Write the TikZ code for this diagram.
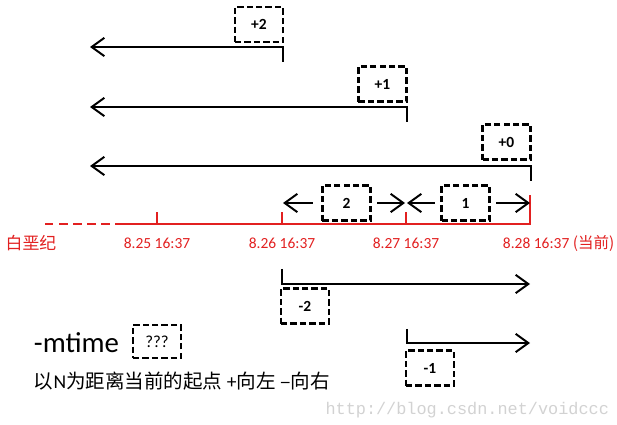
\documentclass[tikz,border=0pt]{standalone}
\usepackage{fontspec}
\setmainfont{Carlito}
\newfontfamily\cjk{Noto Sans CJK SC}
\newfontfamily\wmfont{Liberation Mono}
\usetikzlibrary{arrows.meta}
\definecolor{axisred}{RGB}{226,32,32}
\tikzset{
  arr/.style={-{Straight Barb[length=9pt,width=13pt]}, line width=1.4pt},
  dbox/.style={draw, line width=1.7pt, dash pattern=on 4.5pt off 2.2pt,
    minimum width=1.2cm, minimum height=0.875cm, inner sep=0pt,
    font=\bfseries\fontsize{11}{13}\selectfont},
  tlabel/.style={text=axisred, font=\fontsize{11}{13}\selectfont},
}

\begin{document}
\begin{tikzpicture}[x=0.025cm, y=-0.025cm]
      \useasboundingbox (0,0) rectangle (617,425);
      % axe du temps
      \coordinate (d0) at (45,224);
      \coordinate (d1) at (110,224);
      \coordinate (s0) at (115,224);
      \coordinate (t28) at (530,224);
      \draw[axisred, line width=1.4pt, dash pattern=on 6pt off 4pt] (d0) -- (d1);
      \draw[axisred, line width=1.4pt] (s0) -- (t28) -- ++(0,-29);
      % graduations
      \foreach \x/\n in {157/t25, 282/t26, 406/t27} {
        \coordinate (\n) at (\x,224);
        \draw[axisred, line width=1.4pt] (\n) -- ++(0,-12);
      }
      % dates
      \node[tlabel, font=\cjk\fontsize{12}{14}\selectfont] (lcr) at (31,243) {白垩纪};
      \node[tlabel] (l25) at (157,243) {8.25 16:37};
      \node[tlabel] (l26) at (282,243) {8.26 16:37};
      \node[tlabel] (l27) at (406,243) {8.27 16:37};
      \node[tlabel, anchor=west] (l28) at (498,243) {8.28 16:37 {\cjk(当前)}};
      % +n : vers la gauche
      \node[dbox] (p2) at (259,24.5) {+2};
      \coordinate (p2a) at (283,62);
      \coordinate (p2b) at (90,47);
      \draw[arr] (p2a) |- (p2b);
      \node[dbox] (p1) at (382.5,84) {+1};
      \coordinate (p1a) at (407,122);
      \coordinate (p1b) at (90,107);
      \draw[arr] (p1a) |- (p1b);
      \node[dbox] (p0) at (506.5,142) {+0};
      \coordinate (p0a) at (531,181);
      \coordinate (p0b) at (90,166);
      \draw[arr] (p0a) |- (p0b);
      % intervalles
      \node[dbox] (b2) at (346.5,203) {2};
      \node[dbox] (b1) at (465.5,203) {1};
      \coordinate (m26) at (283,203);
      \coordinate (m27l) at (405,203);
      \coordinate (m27r) at (407,203);
      \coordinate (m28) at (530,203);
      \draw[arr] ([xshift=-6pt]b2.west) -- (m26);
      \draw[arr] ([xshift=4pt]b2.east) -- (m27l);
      \draw[arr] ([xshift=-4pt]b1.west) -- (m27r);
      \draw[arr] ([xshift=4pt]b1.east) -- (m28);
      % -n : vers la droite
      \node[dbox] (n2) at (305,306) {-2};
      \coordinate (n2a) at (282,269);
      \coordinate (n2b) at (530,284);
      \draw[arr] (n2a) |- (n2b);
      \node[dbox] (n1) at (430,368) {-1};
      \coordinate (n1a) at (407,329);
      \coordinate (n1b) at (530,343);
      \draw[arr] (n1a) |- (n1b);
      % légende
      \node[anchor=west, font=\fontsize{20.5}{24}\selectfont] (mt) at (29,343) {-mtime};
      \node[dbox, minimum height=0.825cm, font=\fontsize{12}{14}\selectfont] (qq) at (157,341.5) {???};
      \node[anchor=west, font=\cjk\fontsize{13.9}{16}\selectfont] (expl) at (29,381)
            {以{\rmfamily N}为距离当前的起点 {\rmfamily +}向左 –向右};
      \node[anchor=east, text=gray!35, font=\wmfont\fontsize{12}{14}\selectfont] (wm)
            at (614,410) {http://blog.csdn.net/voidccc};
\end{tikzpicture}
\end{document}
